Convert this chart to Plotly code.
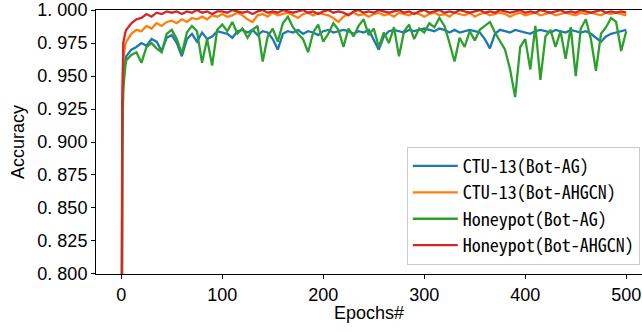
import plotly.graph_objects as go

epochs = [0, 1, 2, 3, 4] + list(range(5, 501, 5))

ctu_ag = [0.52, 0.90, 0.950, 0.958, 0.962,
          0.965, 0.970, 0.972, 0.975, 0.973, 0.978, 0.976, 0.969, 0.979, 0.981,
          0.975, 0.965, 0.978, 0.982, 0.976, 0.983, 0.978, 0.980, 0.984, 0.983,
          0.982, 0.979, 0.984, 0.985, 0.983, 0.985, 0.981, 0.984, 0.983, 0.978,
          0.970, 0.982, 0.984, 0.983, 0.985, 0.982, 0.984, 0.983, 0.981, 0.984,
          0.985, 0.983, 0.984, 0.985, 0.984, 0.982, 0.984, 0.983, 0.985, 0.978,
          0.970, 0.980, 0.984, 0.985, 0.984, 0.983, 0.985, 0.984, 0.985, 0.986,
          0.985, 0.984, 0.986, 0.985, 0.983, 0.985, 0.983, 0.984, 0.985, 0.984,
          0.983, 0.978, 0.971, 0.982, 0.985, 0.984, 0.983, 0.985, 0.984, 0.983,
          0.982, 0.984, 0.985, 0.984, 0.983, 0.985, 0.984, 0.983, 0.985, 0.984,
          0.983, 0.984, 0.982, 0.979, 0.976, 0.980, 0.982, 0.983, 0.984, 0.985]

ctu_ahgcn = [0.55, 0.92, 0.962, 0.970, 0.974,
             0.976, 0.982, 0.985, 0.984, 0.988, 0.986, 0.990, 0.988, 0.991, 0.992,
             0.990, 0.993, 0.991, 0.994, 0.993, 0.995, 0.993, 0.996, 0.995, 0.997,
             0.995, 0.996, 0.998, 0.996, 0.993, 0.991, 0.996, 0.997, 0.995, 0.998,
             0.996, 0.997, 0.998, 0.996, 0.994, 0.997, 0.998, 0.996, 0.998, 0.997,
             0.996, 0.994, 0.991, 0.995, 0.997, 0.998, 0.996, 0.997, 0.995, 0.997,
             0.998, 0.996, 0.997, 0.995, 0.998, 0.997, 0.996, 0.998, 0.997, 0.995,
             0.997, 0.998, 0.996, 0.997, 0.995, 0.998, 0.997, 0.996, 0.998, 0.995,
             0.997, 0.998, 0.996, 0.997, 0.998, 0.997, 0.995, 0.997, 0.998, 0.996,
             0.997, 0.998, 0.996, 0.997, 0.998, 0.996, 0.997, 0.998, 0.997, 0.996,
             0.998, 0.997, 0.998, 0.997, 0.996, 0.998, 0.997, 0.998, 0.997, 0.996]

honey_ag = [0.50, 0.89, 0.940, 0.950, 0.957,
            0.962, 0.966, 0.968, 0.960, 0.972, 0.975, 0.971, 0.968, 0.982, 0.985,
            0.978, 0.967, 0.983, 0.988, 0.984, 0.960, 0.978, 0.958, 0.985, 0.989,
            0.984, 0.991, 0.982, 0.986, 0.979, 0.985, 0.988, 0.961, 0.980, 0.986,
            0.976, 0.990, 0.995, 0.987, 0.982, 0.978, 0.968, 0.983, 0.989, 0.976,
            0.982, 0.990, 0.985, 0.972, 0.986, 0.980, 0.988, 0.993, 0.981, 0.986,
            0.972, 0.983, 0.975, 0.987, 0.965, 0.984, 0.989, 0.978, 0.986, 0.983,
            0.990, 0.987, 0.994, 0.988, 0.975, 0.961, 0.979, 0.972, 0.984, 0.977,
            0.985, 0.988, 0.991, 0.983, 0.977, 0.970, 0.955, 0.934, 0.972, 0.978,
            0.955, 0.988, 0.947, 0.980, 0.985, 0.972, 0.984, 0.963, 0.987, 0.950,
            0.986, 0.993, 0.978, 0.954, 0.982, 0.987, 0.994, 0.991, 0.969, 0.984]

honey_ahgcn = [0.60, 0.93, 0.975, 0.981, 0.983,
               0.985, 0.990, 0.993, 0.994, 0.997, 0.995, 0.998, 0.997, 0.999, 0.998,
               0.999, 0.997, 0.999, 0.998, 1.000, 0.998, 0.999, 0.997, 0.999, 0.999,
               0.998, 1.000, 0.999, 0.998, 0.999, 0.997, 0.999, 1.000, 0.998, 0.999,
               0.998, 1.000, 0.999, 0.998, 0.999, 1.000, 0.998, 0.999, 0.997, 0.999,
               1.000, 0.998, 0.999, 0.998, 0.996, 0.999, 1.000, 0.998, 0.999, 0.998,
               1.000, 0.999, 0.998, 0.999, 1.000, 0.998, 0.999, 0.997, 0.999, 1.000,
               0.998, 0.999, 1.000, 0.998, 0.999, 0.998, 1.000, 0.999, 0.998, 0.999,
               1.000, 0.998, 0.999, 0.998, 1.000, 0.999, 0.998, 0.999, 1.000, 0.998,
               0.999, 0.998, 1.000, 0.999, 0.998, 0.999, 1.000, 0.998, 0.999, 0.998,
               1.000, 0.999, 0.998, 0.999, 1.000, 0.998, 0.999, 0.998, 0.999, 0.998]

names = ["CTU-13(Bot-AG)", "CTU-13(Bot-AHGCN)", "Honeypot(Bot-AG)", "Honeypot(Bot-AHGCN)"]
colors = ["#1f77b4", "#ff7f0e", "#2ca02c", "#d62728"]
series = [ctu_ag, ctu_ahgcn, honey_ag, honey_ahgcn]

y_ticks = [0.800, 0.825, 0.850, 0.875, 0.900, 0.925, 0.950, 0.975, 1.000]
y_tick_labels = ["0.\u00a0800", "0.\u00a0825", "0.\u00a0850", "0.\u00a0875", "0.\u00a0900",
                 "0.\u00a0925", "0.\u00a0950", "0.\u00a0975", "1.\u00a0000"]
x_ticks = [0, 100, 200, 300, 400, 500]

FONT = "Liberation Sans, Arial, sans-serif"
LEG_FONT = "Noto Sans Mono CJK SC, Noto Sans Mono CJK JP, DejaVu Sans Mono, monospace"

fig = go.Figure()
for name, col, vals in zip(names, colors, series):
    fig.add_trace(go.Scatter(x=epochs, y=vals, mode="lines", name=name,
                             line=dict(color=col, width=2.3)))

fig.update_layout(
    width=642, height=332,
    margin=dict(l=96, r=0, t=10, b=58, autoexpand=False),
    paper_bgcolor="white", plot_bgcolor="white",
    font=dict(family=FONT, size=18, color="black"),
    showlegend=True,
    legend=dict(x=0.996, y=0.035, xanchor="right", yanchor="bottom",
                bgcolor="white", bordercolor="#cccccc", borderwidth=1,
                font=dict(family=LEG_FONT, size=18, color="black"),
                tracegroupgap=0, itemwidth=45),
    annotations=[dict(text="Epochs#", xref="paper", yref="paper", x=0.5, y=-0.148,
                      xanchor="center", yanchor="middle", showarrow=False,
                      font=dict(family=FONT, size=18, color="black"))],
)
fig.update_xaxes(range=[-25, 515.6], tickvals=x_ticks, showgrid=False, zeroline=False,
                 showline=True, linecolor="black", linewidth=1, mirror=True,
                 ticks="outside", ticklen=4, tickcolor="black", automargin=False)
fig.update_yaxes(range=[0.79995, 1.00005], tickvals=y_ticks, ticktext=y_tick_labels,
                 showgrid=False, zeroline=False,
                 showline=True, linecolor="black", linewidth=1,
                 ticks="outside", ticklen=4, tickcolor="black", automargin=False,
                 title=dict(text="Accuracy", standoff=8, font=dict(size=18)))

fig.write_html("out.html", config={"displayModeBar": False},
               post_script="document.body.style.margin='0';")
